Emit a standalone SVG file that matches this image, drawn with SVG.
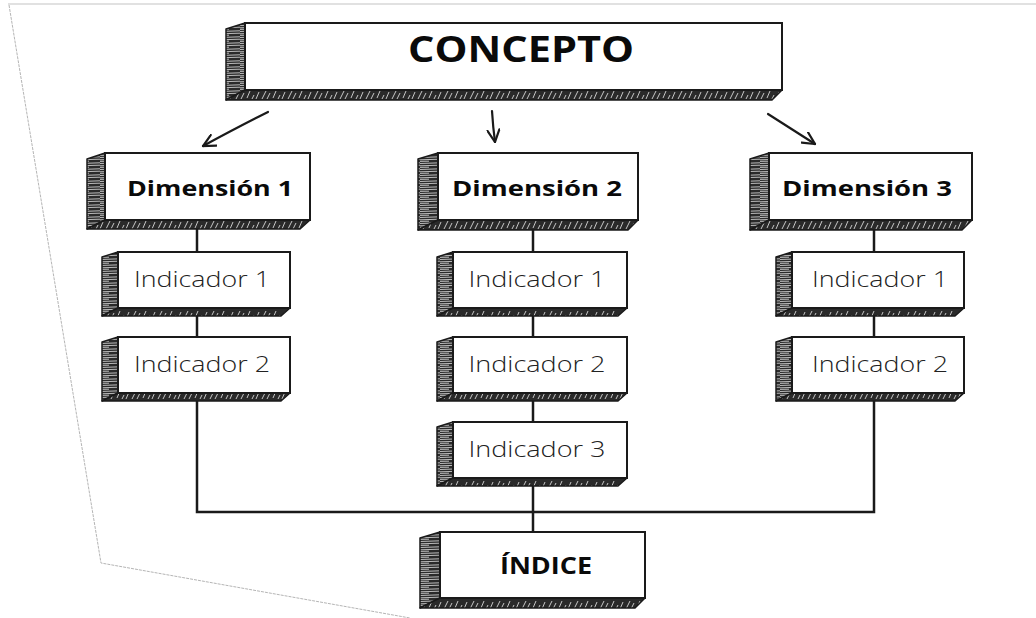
<svg xmlns="http://www.w3.org/2000/svg" width="1036" height="618" viewBox="0 0 1036 618">
<defs>
<pattern id="side" width="20" height="6" patternUnits="userSpaceOnUse">
<rect width="20" height="6" fill="#2a2a2a"/>
<path d="M0 1.5 L20 0.8 M0 3.8 L20 3.2 M0 5.4 L9 5.2" stroke="#e0e0e0" stroke-width="0.8"/>
</pattern>
<pattern id="bot" width="26" height="10" patternUnits="userSpaceOnUse">
<rect width="26" height="10" fill="#2a2a2a"/>
<path d="M2 9 L6 1 M7 9 L10 3 M13 8 L16 1 M18 9 L20 5 M22 9 L25 2" stroke="#d8d8d8" stroke-width="0.9"/>
</pattern>
<marker id="ah" viewBox="0 0 14 14" refX="13" refY="7" markerWidth="14" markerHeight="14" markerUnits="userSpaceOnUse" orient="auto">
<path d="M1 1 L13 7 L1 13" fill="none" stroke="#1a1a1a" stroke-width="2.2" stroke-linecap="round"/>
</marker>
</defs>
<style>
.side{fill:url(#side);stroke:#1a1a1a;stroke-width:1.5;stroke-linejoin:round}
.bot{fill:url(#bot);stroke:#1a1a1a;stroke-width:1.5;stroke-linejoin:round}
.face{fill:#ffffff;stroke:#1a1a1a;stroke-width:2}
.t-big{font-family:"Open Sans","Liberation Sans",sans-serif;font-weight:700;fill:#0a0a0a;text-anchor:middle}
.t-dim{font-family:"Open Sans","Liberation Sans",sans-serif;font-weight:700;font-size:22px;fill:#0a0a0a;text-anchor:middle}
.t-ind{font-family:"Open Sans","Liberation Sans",sans-serif;font-weight:300;font-size:22px;fill:#222222;text-anchor:middle}
.conn{fill:none;stroke:#1a1a1a;stroke-width:2.5}
.arr{fill:none;stroke:#1a1a1a;stroke-width:2.2;stroke-linecap:round;marker-end:url(#ah)}
.paper{fill:none;stroke:#b5b5b5;stroke-width:1;stroke-dasharray:3 1}
</style>
<rect width="1036" height="618" fill="#ffffff"/>
<g id="paper">
<line x1="8" y1="4" x2="1036" y2="4" stroke="#c4c4c4" stroke-width="1.2"/>
<polyline class="paper" points="9,5 101,563 410,618"/>
</g>
<g id="connectors">
<path class="arr" d="M268 112 Q240 126 203 146"/>
<path class="arr" d="M492 111 Q493 127 495 142"/>
<path class="arr" d="M768 114 Q790 128 815 144"/>
<line class="conn" x1="197" y1="229" x2="197" y2="252"/>
<line class="conn" x1="197" y1="316" x2="197" y2="337"/>
<polyline class="conn" points="197,401 197,512 874,512 874,401"/>
<line class="conn" x1="533" y1="230" x2="533" y2="252"/>
<line class="conn" x1="533" y1="316" x2="533" y2="337"/>
<line class="conn" x1="533" y1="401" x2="533" y2="422"/>
<line class="conn" x1="533" y1="486" x2="533" y2="532"/>
<line class="conn" x1="874" y1="230" x2="874" y2="252"/>
<line class="conn" x1="874" y1="316" x2="874" y2="337"/>
</g>
<g id="concepto">
<polygon class="side" points="245,23 226,29 226,100 245,90"/>
<polygon class="bot" points="245,90 226,100 772,100 782,90"/>
<rect class="face" x="245" y="23" width="537" height="67"/>
<text class="t-big" x="521" y="62" font-size="35" textLength="226" lengthAdjust="spacingAndGlyphs">CONCEPTO</text>
</g>
<g id="dim1">
<polygon class="side" points="105,153 87,159 87,229 105,220"/>
<polygon class="bot" points="105,220 87,229 300,229 310,220"/>
<rect class="face" x="105" y="153" width="205" height="67"/>
<text class="t-dim" x="210" y="196" textLength="166" lengthAdjust="spacingAndGlyphs">Dimensión 1</text>
</g>
<g id="dim2">
<polygon class="side" points="438,153 418,159 418,230 438,220"/>
<polygon class="bot" points="438,220 418,230 628,230 638,220"/>
<rect class="face" x="438" y="153" width="200" height="67"/>
<text class="t-dim" x="537" y="196" textLength="170" lengthAdjust="spacingAndGlyphs">Dimensión 2</text>
</g>
<g id="dim3">
<polygon class="side" points="769,153 750,159 750,230 769,220"/>
<polygon class="bot" points="769,220 750,230 962,230 972,220"/>
<rect class="face" x="769" y="153" width="203" height="67"/>
<text class="t-dim" x="867" y="196" textLength="170" lengthAdjust="spacingAndGlyphs">Dimensión 3</text>
</g>
<g id="d1-ind1">
<polygon class="side" points="118,252 102,257 102,316 118,308"/>
<polygon class="bot" points="118,308 102,316 281,316 290,308"/>
<rect class="face" x="118" y="252" width="172" height="56"/>
<text class="t-ind" x="202" y="287" textLength="136" lengthAdjust="spacingAndGlyphs">Indicador 1</text>
</g>
<g id="d1-ind2">
<polygon class="side" points="118,337 102,342 102,401 118,393"/>
<polygon class="bot" points="118,393 102,401 281,401 290,393"/>
<rect class="face" x="118" y="337" width="172" height="56"/>
<text class="t-ind" x="202" y="372" textLength="136" lengthAdjust="spacingAndGlyphs">Indicador 2</text>
</g>
<g id="d2-ind1">
<polygon class="side" points="453,252 437,257 437,316 453,308"/>
<polygon class="bot" points="453,308 437,316 618,316 627,308"/>
<rect class="face" x="453" y="252" width="174" height="56"/>
<text class="t-ind" x="537" y="287" textLength="137" lengthAdjust="spacingAndGlyphs">Indicador 1</text>
</g>
<g id="d2-ind2">
<polygon class="side" points="453,337 437,342 437,401 453,393"/>
<polygon class="bot" points="453,393 437,401 618,401 627,393"/>
<rect class="face" x="453" y="337" width="174" height="56"/>
<text class="t-ind" x="537" y="372" textLength="137" lengthAdjust="spacingAndGlyphs">Indicador 2</text>
</g>
<g id="d2-ind3">
<polygon class="side" points="453,422 437,427 437,486 453,478"/>
<polygon class="bot" points="453,478 437,486 618,486 627,478"/>
<rect class="face" x="453" y="422" width="174" height="56"/>
<text class="t-ind" x="537" y="457" textLength="137" lengthAdjust="spacingAndGlyphs">Indicador 3</text>
</g>
<g id="d3-ind1">
<polygon class="side" points="792,252 776,257 776,316 792,308"/>
<polygon class="bot" points="792,308 776,316 955,316 964,308"/>
<rect class="face" x="792" y="252" width="172" height="56"/>
<text class="t-ind" x="880" y="287" textLength="136" lengthAdjust="spacingAndGlyphs">Indicador 1</text>
</g>
<g id="d3-ind2">
<polygon class="side" points="792,337 776,342 776,401 792,393"/>
<polygon class="bot" points="792,393 776,401 955,401 964,393"/>
<rect class="face" x="792" y="337" width="172" height="56"/>
<text class="t-ind" x="880" y="372" textLength="136" lengthAdjust="spacingAndGlyphs">Indicador 2</text>
</g>
<g id="indice">
<polygon class="side" points="440,532 420,538 420,608 440,598"/>
<polygon class="bot" points="440,598 420,608 635,608 645,598"/>
<rect class="face" x="440" y="532" width="205" height="66"/>
<text class="t-big" x="546" y="574" font-size="23" textLength="92" lengthAdjust="spacingAndGlyphs">ÍNDICE</text>
</g>
</svg>
